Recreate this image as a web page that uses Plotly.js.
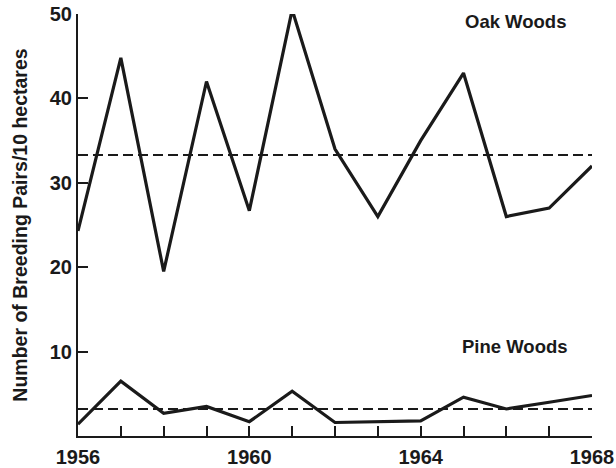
<!DOCTYPE html>
<html><head><meta charset="utf-8">
<script src="https://cdn.plot.ly/plotly-3.0.1.min.js"></script>
<style>html,body{margin:0;padding:0;background:#fff}#chart{width:616px;height:468px}</style>
</head><body><div id="chart"></div>
<script>
const years = [1956,1957,1958,1959,1960,1961,1962,1963,1964,1965,1966,1967,1968];
const oakWoods = [24.3,44.8,19.5,42,26.7,50.5,34,26,35,43,26,27,32];
const pineWoods = [1.4,6.5,2.7,3.5,1.7,5.3,1.6,1.7,1.8,4.6,3.2,4.0,4.8];
const oakMean = 33.3;
const pineMean = 3.2;
const tickYears = [1956,1960,1964,1968];
const yTicks = [10,20,30,40,50];

const ink = '#1a1a1a';
const font = 'Liberation Sans, Arial, sans-serif';
const traces = [
  {x: years, y: oakWoods, mode:'lines', line:{color:ink,width:3.2}, cliponaxis:false},
  {x: years, y: pineWoods, mode:'lines', line:{color:ink,width:3.2}, cliponaxis:false},
  {x: [years[0], years[years.length-1]], y:[oakMean,oakMean], mode:'lines', line:{color:ink,width:2,dash:'10px,5px'}, cliponaxis:false},
  {x: [years[0], years[years.length-1]], y:[pineMean,pineMean], mode:'lines', line:{color:ink,width:2,dash:'10px,5px'}, cliponaxis:false}
];
const layout = {
  width:616, height:468, showlegend:false,
  paper_bgcolor:'#fff', plot_bgcolor:'#fff',
  margin:{l:78,r:24,t:14,b:32},
  xaxis:{range:[1956,1968], showgrid:false, zeroline:false, showline:true, linecolor:ink, linewidth:2,
    tickmode:'array', tickvals:years, ticktext:years.map(y=>tickYears.includes(y)?String(y):''),
    ticks:'inside', ticklen:10, tickwidth:2, tickcolor:ink, ticklabelstandoff:2,
    tickfont:{family:font,size:20,color:ink,weight:'bold'}},
  yaxis:{range:[0,50], showgrid:false, zeroline:false, showline:true, linecolor:ink, linewidth:2,
    tickmode:'array', tickvals:yTicks, ticks:'inside', ticklen:10, tickwidth:2, tickcolor:ink,
    tickfont:{family:font,size:20,color:ink,weight:'bold'},
    title:{text:'Number of Breeding Pairs/10 hectares', font:{family:font,size:19.5,color:ink,weight:'bold'}, standoff:17}},
  annotations:[
    {text:'Oak Woods', x:515, y:22},
    {text:'Pine Woods', x:515, y:346}
  ]
};
const pw = 616-78-24, ph = 468-14-32;
layout.annotations = layout.annotations.map(a => ({
  text:a.text, xref:'paper', yref:'paper', showarrow:false,
  x:(a.x-78)/pw, y:1-(a.y-14)/ph, xanchor:'center', yanchor:'middle',
  font:{family:font,size:18.5,color:ink,weight:'bold'}
}));
Plotly.newPlot('chart', traces, layout, {displayModeBar:false, staticPlot:true});
</script>
</body></html>
